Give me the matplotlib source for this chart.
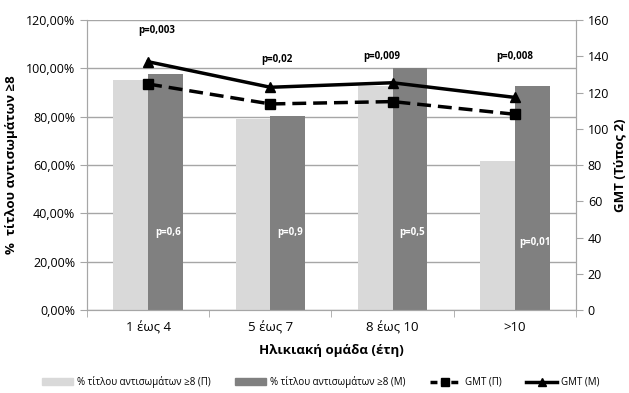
import matplotlib
matplotlib.use("Agg")
import matplotlib.pyplot as plt
from matplotlib.lines import Line2D
from matplotlib.patches import Patch
import numpy as np

plt.rcParams['font.family'] = ['Open Sans', 'DejaVu Sans']

categories = ["1 έως 4", "5 έως 7", "8 έως 10", ">10"]
pct_P = [95.2, 78.9, 92.7, 61.8]
pct_M = [97.8, 80.3, 100.0, 92.6]
gmt_P = [124.7, 113.7, 115.0, 108.0]
gmt_M = [137.0, 122.9, 125.4, 117.3]
p_top = ["p=0,003", "p=0,02", "p=0,009", "p=0,008"]
p_bar = ["p=0,6", "p=0,9", "p=0,5", "p=0,01"]
yticks_left = [0, 20, 40, 60, 80, 100, 120]
yticks_right = [0, 20, 40, 60, 80, 100, 120, 140, 160]

fig = plt.figure(figsize=(6.29, 3.93), dpi=100)
ax = fig.add_axes([0.1383, 0.2112, 0.7774, 0.7378])
x = np.arange(len(categories))
w = 0.285
gridc = '#a6a6a6'
ax.bar(x - w/2, pct_P, w, color='#d9d9d9', zorder=2)
ax.bar(x + w/2, pct_M, w, color='#808080', zorder=2)
ax.set_ylim(0, 120)
ax.set_xlim(-0.5, 3.5)
ax.set_yticks(yticks_left)
ax.set_yticklabels([f"{v:.2f}%".replace('.', ',') for v in yticks_left], fontsize=9)
ax.yaxis.grid(True, color=gridc, linewidth=1)
ax.set_axisbelow(True)
ax.set_xticks(x)
ax.set_xticklabels(categories, fontsize=9.5)
ax.tick_params(axis='x', length=0, pad=8)
ax.set_xticks([-0.5, 0.5, 1.5, 2.5, 3.5], minor=True)
ax.tick_params(axis='x', which='minor', length=5, color=gridc, direction='out')
ax.tick_params(axis='y', length=5, color=gridc)
for s in ['top']:
    ax.spines[s].set_visible(False)
for s in ['left', 'right', 'bottom']:
    ax.spines[s].set_color(gridc)
ax.set_ylabel("%  τίτλου αντισωμάτων ≥8", fontsize=9.5, fontweight='bold', labelpad=6)
ax.set_xlabel("Ηλικιακή ομάδα (έτη)", fontsize=9.5, fontweight='bold', labelpad=7)

for i, t in enumerate(p_bar):
    ax.text(x[i] + w/2 + 0.02, 32 if i < 3 else 28, t, color='white', fontsize=7,
            fontweight='bold', ha='center', va='center', zorder=5)

ax2 = ax.twinx()
ax2.set_ylim(0, 160)
ax2.set_yticks(yticks_right)
ax2.set_yticklabels([str(v) for v in yticks_right], fontsize=9)
ax2.tick_params(axis='y', length=5, color=gridc)
for s in ['top']:
    ax2.spines[s].set_visible(False)
for s in ['left', 'right', 'bottom']:
    ax2.spines[s].set_color(gridc)
ax2.plot(x, gmt_P, color='black', linewidth=2.5, linestyle=(0, (4, 2)), marker='s',
         markersize=7, zorder=4)
ax2.plot(x, gmt_M, color='black', linewidth=2.5, marker='^', markersize=7, zorder=4)
ax2.set_ylabel("GMT (Τύπος 2)", fontsize=9.5, fontweight='bold', labelpad=3)

top_y = [154.5, 138, 140, 140]
top_dx = [0.07, 0.05, -0.09, 0.0]
for i, t in enumerate(p_top):
    ax2.text(x[i] + top_dx[i], top_y[i], t, fontsize=7, fontweight='bold',
             ha='center', va='center')

handles = [
    Patch(color='#d9d9d9'),
    Patch(color='#808080'),
    Line2D([], [], color='black', linewidth=2.5, linestyle=(0, (2, 1)), marker='s', markersize=6),
    Line2D([], [], color='black', linewidth=2.5, marker='^', markersize=6),
]
labels = ["% τίτλου αντισωμάτων ≥8 (Π)", "% τίτλου αντισωμάτων ≥8 (Μ)", "GMT (Π)", "GMT (Μ)"]
fig.legend(handles, labels, loc='center', bbox_to_anchor=(0.51, 0.028), ncol=4,
           frameon=False, fontsize=7, handlelength=3.2, columnspacing=2.5, handletextpad=0.4)

fig.savefig("out.png", dpi=100)
